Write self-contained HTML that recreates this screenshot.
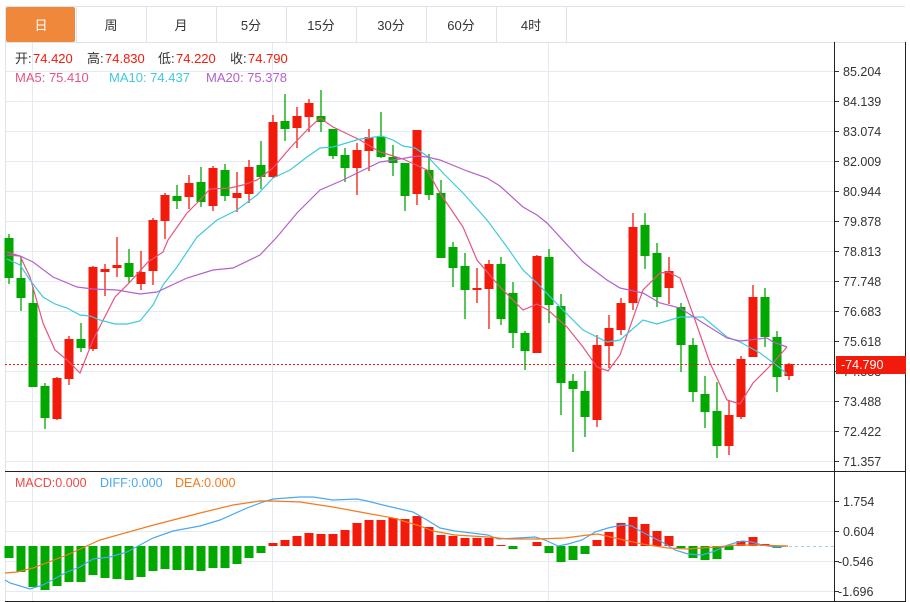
<!DOCTYPE html>
<html><head><meta charset="utf-8">
<style>
html,body{margin:0;padding:0;background:#fff;width:910px;height:602px;overflow:hidden;font-family:"Liberation Sans","Noto Sans CJK SC",sans-serif;}
svg{display:block}
</style></head><body>
<svg id="s" width="910" height="602" viewBox="0 0 910 602" xmlns="http://www.w3.org/2000/svg" font-family="Liberation Sans, Noto Sans CJK SC, sans-serif">
<rect width="910" height="602" fill="#fff"/>
<g id="grid" stroke="#e3eaf1" stroke-width="1"></g>
<g id="tabs"></g>
<g id="cand"></g>
<g id="ma" fill="none" stroke-width="1.2"></g>
<g id="macd"></g>
<g id="axes"></g>
</svg>
<script>
const NS="http://www.w3.org/2000/svg";
function el(p,t,a,txt){const e=document.createElementNS(NS,t);for(const k in a)e.setAttribute(k,a[k]);if(txt!==undefined)e.textContent=txt;document.getElementById(p).appendChild(e);return e;}
for(let i=0;i<14;i++){const y=71+i*30;el('grid','line',{x1:5,x2:834,y1:y+.5,y2:y+.5});}
[501,531,561,591].forEach(y=>el('grid','line',{x1:5,x2:834,y1:y+.5,y2:y+.5}));
[32,272,548].forEach(x=>el('grid','line',{x1:x+.5,x2:x+.5,y1:42,y2:601}));
const tabs=["日","周","月","5分","15分","30分","60分","4时"];
el('tabs','line',{x1:5,x2:905,y1:6.5,y2:6.5,stroke:"#dde3ea"});
el('tabs','line',{x1:5,x2:905,y1:42.5,y2:42.5,stroke:"#dde3ea"});
tabs.forEach((t,i)=>{const x=6+i*70;
 if(i==0)el('tabs','rect',{x:6,y:7,width:69,height:35,fill:"#f0883c",rx:2});
 el('tabs','line',{x1:x+70.5,x2:x+70.5,y1:7,y2:42,stroke:"#dde3ea"});
 el('tabs','text',{x:x+35,y:30,"text-anchor":"middle","font-size":"13",fill:i==0?"#fff":"#333"},t);});
el('tabs','line',{x1:5.5,x2:5.5,y1:7,y2:601,stroke:"#dde3ea"});
[["开:",15,"74.420"],["高:",87,"74.830"],["低:",158,"74.220"],["收:",230,"74.790"]].forEach(([l,x,v])=>{
 el('tabs','text',{x:x,y:63,"font-size":"13",fill:"#333"},l);
 el('tabs','text',{x:x+18,y:63,"font-size":"13",fill:"#f21a0a"},v);});
el('tabs','text',{x:15,y:82,"font-size":"13",fill:"#e8547f"},"MA5: 75.410");
el('tabs','text',{x:109,y:82,"font-size":"13",fill:"#3fc9de"},"MA10: 74.437");
el('tabs','text',{x:206,y:82,"font-size":"13",fill:"#b55fcc"},"MA20: 75.378");
const C=[[238,278,234,284,0],[278,298,257,311,0],[303,387,287,387,0],[386,418,383,429,0],[419,378,377,420,1],[379,339,336,385,1],[339,348,323,352,0],[349,267,266,351,1],[272,269,264,296,1],[268,265,237,277,1],[263,277,249,283,0],[284,272,251,290,1],[271,220,218,285,1],[221,195,193,239,1],[196,201,185,209,0],[197,183,175,209,1],[182,202,167,207,0],[206,168,166,211,1],[170,196,164,201,0],[198,193,172,212,1],[194,167,160,203,1],[165,177,141,189,0],[177,122,115,178,1],[121,129,94,141,0],[128,116,107,148,1],[117,103,99,132,1],[116,122,90,132,0],[129,156,129,159,0],[155,168,148,182,0],[168,150,143,195,1],[151,137,129,171,1],[137,157,112,158,0],[157,163,145,176,0],[163,196,163,211,0],[194,130,130,205,1],[170,195,154,200,0],[193,258,180,258,0],[247,268,242,287,0],[266,290,253,319,0],[290,288,268,303,1],[289,264,260,329,1],[264,319,257,325,0],[293,333,282,348,0],[333,351,331,370,0],[353,256,255,353,1],[257,305,249,323,0],[306,383,294,415,0],[381,389,374,452,0],[391,417,371,437,0],[420,345,335,427,1],[346,328,315,368,1],[330,303,298,335,1],[303,227,213,310,1],[225,256,213,269,0],[253,297,243,307,0],[288,271,257,304,1],[307,345,303,372,0],[345,392,338,402,0],[394,412,376,428,0],[411,446,382,458,0],[446,415,400,455,1],[417,359,356,419,1],[357,297,285,357,1],[297,337,288,347,0],[337,377,331,392,0],[364,376,363,380,1]];
C.forEach((c,i)=>{const x=9+i*12;const col=c[4]?"#f21a0a":"#00a800";
 el('cand','line',{x1:x,x2:x,y1:c[2],y2:c[3],stroke:col,"stroke-width":1.3});
 const t=Math.min(c[0],c[1]),b=Math.max(c[0],c[1]);
 el('cand','rect',{x:x-4.5,y:t,width:9,height:Math.max(2,b-t),fill:col});});
function pl(g,pts,col,w){el(g,'polyline',{points:pts.map(p=>p.join(',')).join(' '),stroke:col,fill:"none","stroke-width":w||1.2});}
pl('ma',[[7,252],[20,256],[30,277],[43,323],[55,350],[67,360],[80,373],[93,340],[115,297],[130,282],[148,262],[163,252],[168,240],[187,213],[200,200],[210,189],[230,188],[243,185],[257,180],[273,168],[290,148],[307,130],[320,118],[333,127],[360,140],[380,152],[390,155],[403,159],[427,170],[440,193],[463,227],[477,260],[500,287],[523,310],[537,304],[548,310],[567,327],[583,347],[597,367],[608,371],[620,355],[643,290],[660,273],[668,272],[680,278],[695,320],[710,363],[727,400],[740,404],[753,383],[773,363],[787,347]],"#e8547f");
pl('ma',[[7,259],[20,265],[30,280],[43,297],[55,304],[67,308],[80,315],[90,316],[100,320],[115,324],[127,324],[140,321],[153,305],[163,285],[177,267],[197,237],[217,220],[237,210],[257,195],[273,178],[290,170],[307,157],[320,148],[333,147],[360,139],[382,136],[393,140],[403,146],[415,148],[427,156],[443,173],[463,193],[487,220],[507,247],[523,270],[537,283],[560,307],[583,330],[607,342],[620,340],[643,320],[657,324],[680,317],[703,317],[727,337],[740,342],[760,353],[780,368],[787,374]],"#3fc9de");
pl('ma',[[7,255],[20,256],[33,262],[53,277],[77,287],[93,289],[117,290],[140,294],[157,292],[187,278],[213,270],[233,268],[260,255],[277,237],[297,213],[320,190],[343,180],[380,162],[400,159],[417,156],[427,157],[440,160],[467,171],[487,178],[500,186],[523,207],[537,215],[547,223],[583,262],[607,280],[620,288],[643,293],[660,303],[680,308],[703,323],[727,338],[740,341],[767,338],[773,342],[787,347]],"#b55fcc");
el('ma','line',{x1:5,x2:834,y1:364.5,y2:364.5,stroke:"#f21a0a","stroke-dasharray":"2,2","stroke-width":1});
const Z=546;
const H=[558,572,587,590,586,582,582,575,578,579,580,577,571,569,570,570,571,568,568,564,558,553,543,540,536,533,534,534,530,523,520,520,518,519,516,527,535,536,538,538,538,545,549,546,542,553,562,560,554,540,532,523,517,524,531,536,548,558,560,559,550,541,537,544,548,546];
H.forEach((v,i)=>{const x=9+i*12;const red=v<Z;const col=red?"#f21a0a":"#00a800";
 const t=Math.min(v,Z),b=Math.max(v,Z);if(b-t<1)return;
 el('macd','rect',{x:x-4.5,y:t,width:9,height:b-t,fill:col});});
el('macd','line',{x1:789,x2:834,y1:Z+.5,y2:Z+.5,stroke:"#9fd0ee","stroke-dasharray":"3,3"});
pl('macd',[[5,580],[10,583],[30,589],[43,585],[67,572],[80,567],[93,559],[110,557],[127,552],[140,545],[153,538],[173,531],[200,526],[220,520],[247,508],[263,502],[273,499],[300,497],[313,497],[333,500],[357,499],[367,501],[387,506],[413,512],[427,520],[440,528],[455,531],[488,535],[498,539],[518,538],[535,537],[545,540],[558,546],[568,544],[582,540],[595,532],[608,528],[622,525],[632,526],[642,532],[662,542],[675,550],[688,554],[702,555],[715,551],[728,545],[742,541],[752,542],[762,545],[775,547],[788,546]],"#4aa8f0");
pl('macd',[[5,573],[17,572],[33,568],[67,555],[100,540],[150,526],[200,513],[233,505],[260,501],[273,501],[300,502],[333,507],[360,512],[393,518],[420,526],[433,531],[455,535],[488,537],[508,539],[538,539],[565,538],[588,535],[598,534],[615,538],[642,544],[668,548],[688,549],[715,547],[738,545],[755,545],[788,546]],"#f47a20");
el('macd','text',{x:15,y:487,"font-size":"12.5",fill:"#f04848"},"MACD:0.000");
el('macd','text',{x:100,y:487,"font-size":"12.5",fill:"#4aa8f0"},"DIFF:0.000");
el('macd','text',{x:175,y:487,"font-size":"12.5",fill:"#f47a20"},"DEA:0.000");
el('axes','line',{x1:834.5,x2:834.5,y1:42,y2:602,stroke:"#222"});
el('axes','line',{x1:905.5,x2:905.5,y1:42,y2:602,stroke:"#222"});
el('axes','line',{x1:5,x2:906,y1:471.5,y2:471.5,stroke:"#222"});
el('axes','line',{x1:5,x2:906,y1:601.5,y2:601.5,stroke:"#222"});
const T=["85.204","84.139","83.074","82.009","80.944","79.878","78.813","77.748","76.683","75.618","74.553","73.488","72.422","71.357"];
T.forEach((t,i)=>{const y=71+i*30;el('axes','line',{x1:835,x2:839,y1:y+.5,y2:y+.5,stroke:"#333"});
 el('axes','text',{x:843,y:y+5,"font-size":"12.5",fill:"#333"},t);});
[["1.754",501],["0.604",531],["-0.546",561],["-1.696",591]].forEach(([t,y])=>{el('axes','line',{x1:835,x2:839,y1:y+.5,y2:y+.5,stroke:"#333"});
 el('axes','text',{x:t[0]=='-'?838:843,y:y+5,"font-size":"12.5",fill:"#333"},t);});
el('axes','rect',{x:836,y:356,width:70,height:18,fill:"#f21a0a"});
el('axes','text',{x:841,y:369,"font-size":"12.5",fill:"#fff"},"-74.790");
</script>
</body></html>
